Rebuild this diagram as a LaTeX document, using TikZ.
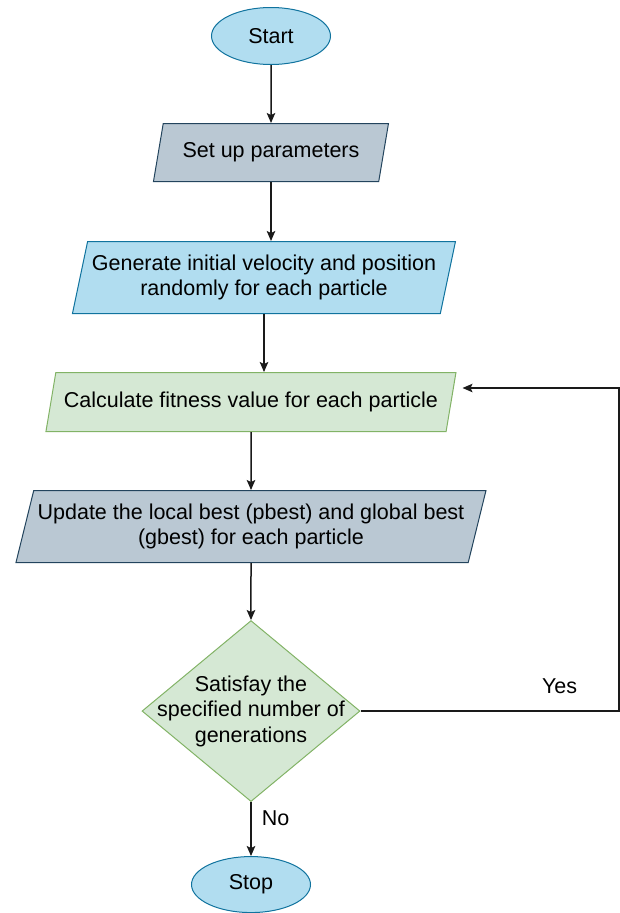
\documentclass[tikz,border=0pt]{standalone}
\usepackage{fontspec}
\setmainfont{Liberation Sans}
\usetikzlibrary{positioning}
\usetikzlibrary{shapes.geometric, arrows.meta}
\definecolor{blueFill}{HTML}{B1DDF0}
\definecolor{blueLine}{HTML}{10739E}
\definecolor{grayFill}{HTML}{BAC8D3}
\definecolor{grayLine}{HTML}{23445D}
\definecolor{greenFill}{HTML}{D5E8D4}
\definecolor{greenLine}{HTML}{82B366}
\definecolor{lineGray}{HTML}{1A1A1A}
\tikzstyle{startstop} = [ellipse, draw=blueLine, fill=blueFill, line width=1pt, minimum width=119pt, minimum height=57pt, inner sep=0pt]
\tikzstyle{io} = [trapezium, trapezium stretches body, line width=1pt, align=center, inner xsep=-40pt, inner ysep=0pt]
\tikzstyle{decision} = [diamond, draw=greenLine, fill=greenFill, line width=1pt, align=center, inner xsep=-45pt, inner ysep=-25pt, minimum width=218pt, minimum height=181pt]
\tikzstyle{arrow} = [line width=1.5pt, draw=lineGray, ->, >={Stealth[length=10pt,width=8.5pt,inset=2pt]}]
\tikzstyle{lbl} = [inner sep=0pt]

\begin{document}
\begin{tikzpicture}[node distance=58pt, font=\fontsize{21.5}{25.5}\selectfont]
\useasboundingbox (0,0) rectangle (620pt,-913pt);

\node (start) [startstop] at (271pt,-36pt) {Start};
\node (setup) [io, draw=grayLine, fill=grayFill, trapezium left angle=63.4, trapezium right angle=116.6, minimum width=235pt, minimum height=58pt, below=of start] {Set up parameters};
\node (init) [io, draw=blueLine, fill=blueFill, trapezium left angle=71.6, trapezium right angle=108.4, minimum width=383pt, minimum height=72pt, below=59pt of setup, xshift=-7pt] {Generate initial velocity and position\\randomly for each particle};
\node (fitness) [io, draw=greenLine, fill=greenFill, trapezium left angle=63.8, trapezium right angle=116.2, minimum width=410pt, minimum height=59pt, below=of init, xshift=-13pt] {Calculate fitness value for each particle};
\node (update) [io, draw=grayLine, fill=grayFill, trapezium left angle=68.7, trapezium right angle=111.3, minimum width=470pt, minimum height=72pt, below=of fitness] {Update the local best (pbest) and global best\\(gbest) for each particle};
\node (check) [decision, below=57pt of update] {Satisfay the\\specified number of\\generations};
\node (stop) [startstop, minimum height=56pt, below=54pt of check] {Stop};
\coordinate (loop) at (619pt,-388pt);

\draw [arrow] (start) -- (setup);
\draw [arrow] (setup.south) -- (setup.south |- init.north);
\draw [arrow] (init.south) -- (init.south |- fitness.north);
\draw [arrow] (fitness) -- (update);
\draw [arrow] (update) -- (check);
\draw [arrow] (check.south) -- node[lbl, pos=0.29, right=10pt] {No} (stop.north);
\draw [arrow, line width=1.2pt] (check.east) -- node[lbl, pos=0.77, above=17pt] {Yes} (check.east -| loop) -- (loop) -- ([xshift=11pt]fitness.east |- loop);
\end{tikzpicture}
\end{document}
